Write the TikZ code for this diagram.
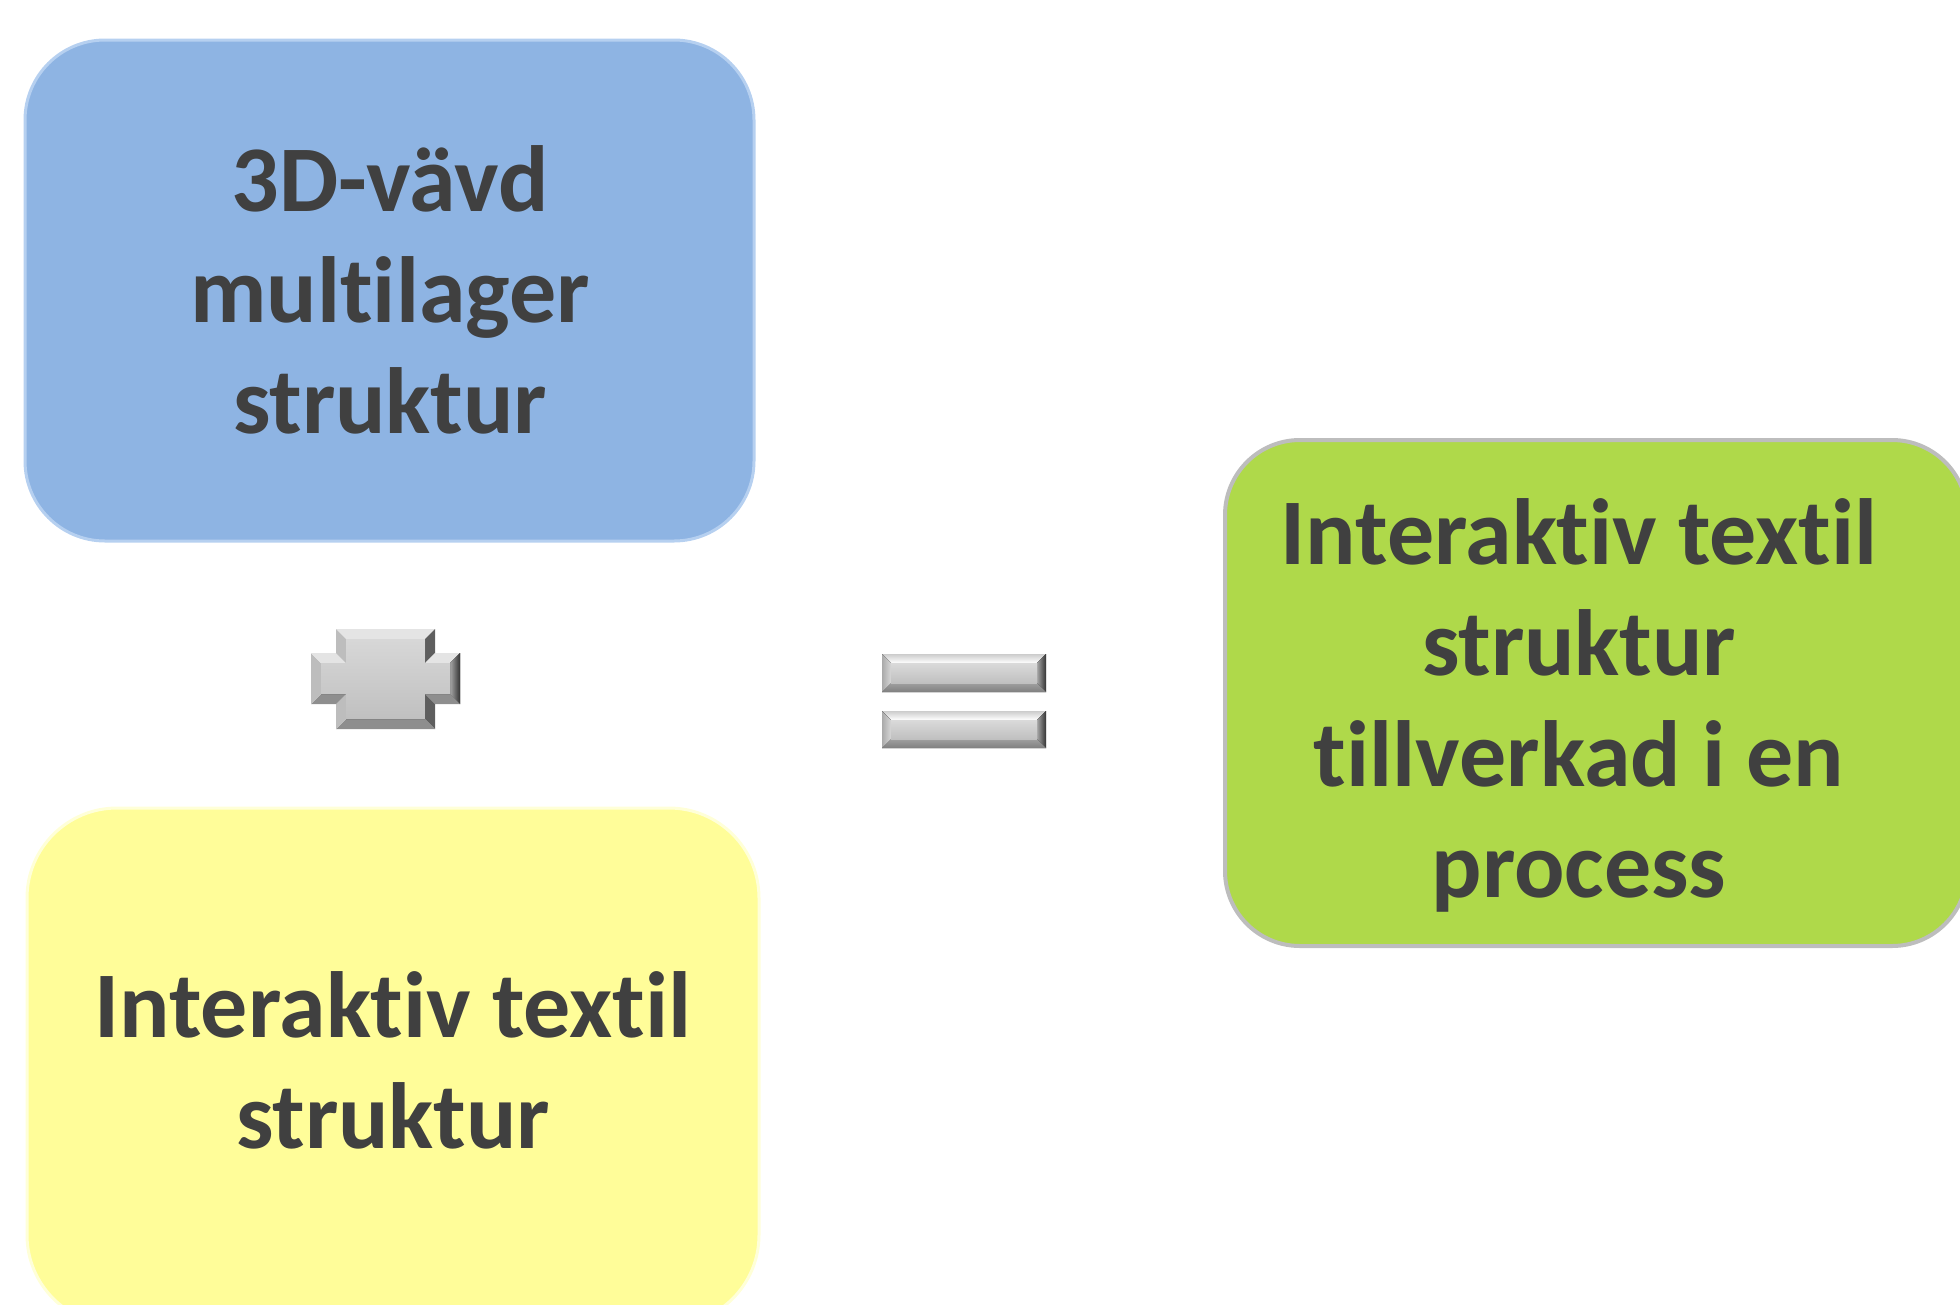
\documentclass[tikz,border=0pt]{standalone}
\usepackage{fontspec}
\setmainfont{Carlito}[Ligatures=NoCommon]
\definecolor{txt}{HTML}{404040}
\definecolor{blueFill}{HTML}{8EB4E3}
\definecolor{blueRim}{HTML}{B6D0F0}
\definecolor{yelFill}{HTML}{FFFD99}
\definecolor{yelRim}{HTML}{FFFFD8}
\definecolor{grnFill}{HTML}{AFD94A}
\definecolor{grnRim}{HTML}{BDBDBD}
\definecolor{bvTop}{HTML}{E4E4E4}
\definecolor{bvLeft}{HTML}{BDBDBD}
\definecolor{bvRight}{HTML}{5E5E5E}
\definecolor{bvBottom}{HTML}{8E8E8E}
\definecolor{bvFace}{HTML}{CACACA}

% bevelled rectangle: corners (#1,#2), (#3,#4), bevel depth #5
\newcommand\BevelRect[5]{%
  \fill[top color=gray!40, bottom color=white] (#1,#2) -- (#3,#2) -- (#3-#5,#2+#5) -- (#1+#5,#2+#5) -- cycle;
  \fill[left color=gray!70, right color=black!80] (#3,#2) -- (#3,#4) -- (#3-#5,#4-#5) -- (#3-#5,#2+#5) -- cycle;
  \fill[top color=gray!75, bottom color=gray] (#3,#4) -- (#1,#4) -- (#1+#5,#4-#5) -- (#3-#5,#4-#5) -- cycle;
  \fill[left color=bvLeft!90!black, right color=bvLeft!60] (#1,#4) -- (#1,#2) -- (#1+#5,#2+#5) -- (#1+#5,#4-#5) -- cycle;
  \fill[top color=bvFace!70, bottom color=bvFace!95!black] (#1+#5,#2+#5) rectangle (#3-#5,#4-#5);
}

\begin{document}
\begin{tikzpicture}[x=1pt,y=-1pt,
  card/.style={rectangle, draw, line width=3pt, inner sep=0pt},
  cardtext/.style={inner sep=0pt, align=center, text=txt,
    font=\fontsize{94}{111}\selectfont\bfseries}]
\useasboundingbox (0,0) rectangle (1960,1304);
\clip (0,0) rectangle (1960,1304);

% the three boxes
\node[card, fill=blueFill, draw=blueRim, rounded corners=80pt,
  minimum width=729pt, minimum height=501pt] (blue) at (389.5,290.5) {};
\node[card, fill=yelFill, draw=yelRim, rounded corners=90pt,
  minimum width=732pt, minimum height=517pt] (yellow) at (393,1066.5) {};
\node[card, fill=grnFill, draw=grnRim, line width=4pt, rounded corners=75pt,
  minimum width=742pt, minimum height=506pt] (green) at (1596,693) {};

% box captions
\node[cardtext] (blueText) at (390,290) {3D-vävd\\multilager\\struktur};
\node[cardtext] (yellowText) at (393,1060) {Interaktiv textil\\struktur};
\node[cardtext] (greenText) at (1579,705) {Interaktiv textil\\struktur\\tillverkad i en\\process};

% bevelled plus sign
\fill[bvTop] (336,629) -- (435,629) -- (425,639) -- (346,639) -- cycle;
\fill[bvRight] (435,629) -- (435,653) -- (425,663) -- (425,639) -- cycle;
\fill[bvTop] (435,653) -- (460,653) -- (450,663) -- (425,663) -- cycle;
\fill[left color=gray!70, right color=black!80] (460,653) -- (460,704) -- (450,694) -- (450,663) -- cycle;
\fill[bvBottom] (460,704) -- (435,704) -- (425,694) -- (450,694) -- cycle;
\fill[bvRight] (435,704) -- (435,729) -- (425,719) -- (425,694) -- cycle;
\fill[bvBottom] (435,729) -- (336,729) -- (346,719) -- (425,719) -- cycle;
\fill[bvLeft] (336,729) -- (336,704) -- (346,694) -- (346,719) -- cycle;
\fill[bvBottom] (336,704) -- (311,704) -- (321,694) -- (346,694) -- cycle;
\fill[bvLeft] (311,704) -- (311,653) -- (321,663) -- (321,694) -- cycle;
\fill[bvTop] (311,653) -- (336,653) -- (346,663) -- (321,663) -- cycle;
\fill[bvLeft] (336,653) -- (336,629) -- (346,639) -- (346,663) -- cycle;
\fill[top color=bvFace!75, bottom color=bvFace!95!black]
  (346,639) -- (425,639) -- (425,663) -- (450,663) -- (450,694) -- (425,694)
  -- (425,719) -- (346,719) -- (346,694) -- (321,694) -- (321,663) -- (346,663) -- cycle;
\coordinate (plus) at (385.5,679);

% bevelled equals sign
\BevelRect{882}{654}{1046}{692}{9}
\BevelRect{882}{711}{1046}{748}{9}
\coordinate (equals) at (964,701);
\end{tikzpicture}
\end{document}
